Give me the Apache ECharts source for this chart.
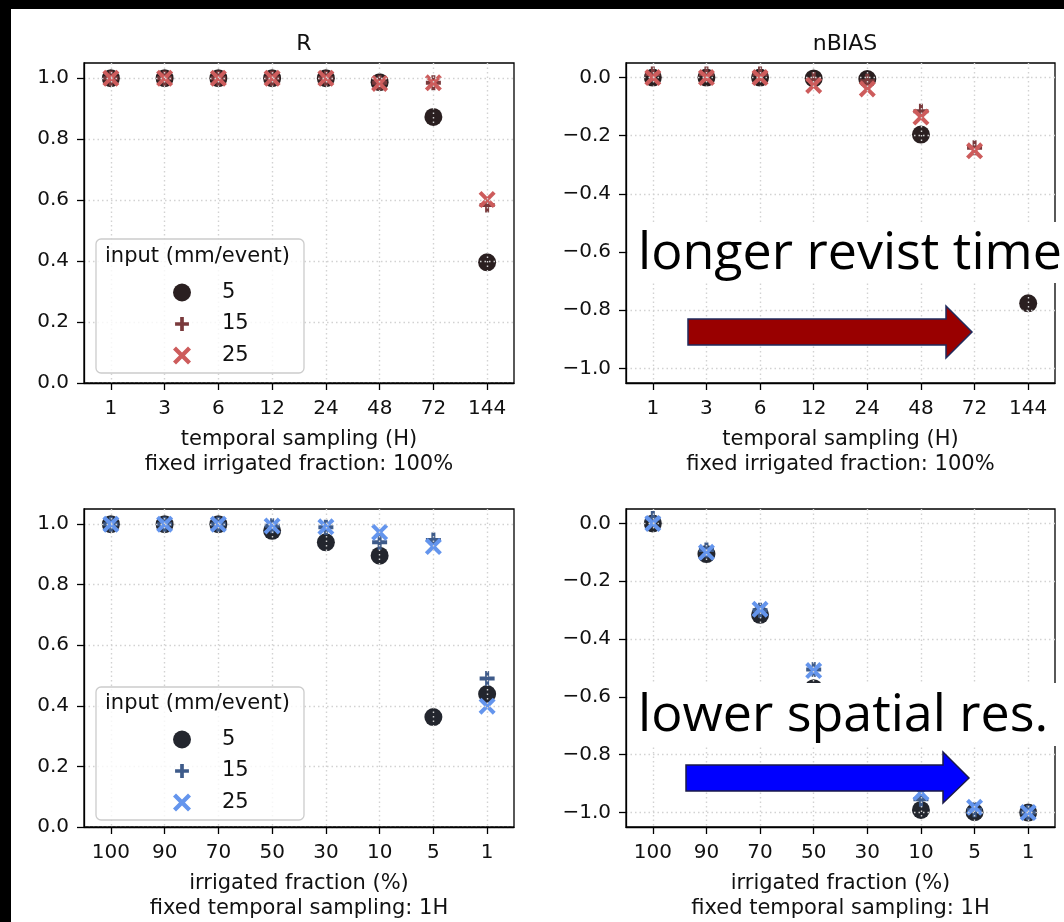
<!DOCTYPE html>
<html>
<head>
<meta charset="utf-8">
<script src="https://cdn.jsdelivr.net/npm/echarts@6/dist/echarts.min.js"></script>
<style>
html,body{margin:0;padding:0;background:#fff;}
#chart{width:1064px;height:922px;}
</style>
</head>
<body>
<div id="chart"></div>
<script>
// ---------------- DATA ----------------
const catsTemporal = ['1','3','6','12','24','48','72','144'];
const catsFraction = ['100','90','70','50','30','10','5','1'];
const ticksR = [0, 0.2, 0.4, 0.6, 0.8, 1.0];
const ticksBias = [-1.0, -0.8, -0.6, -0.4, -0.2, 0.0];
const inputs = ['5', '15', '25'];

// R vs temporal sampling (fixed irrigated fraction 100%)
const rTemporal5  = [1.0, 1.0, 1.0, 1.0, 1.0, 0.987, 0.873, 0.396];
const rTemporal15 = [1.0, 1.0, 1.0, 1.0, 1.0, 0.985, 0.985, 0.584];
const rTemporal25 = [1.0, 1.0, 1.0, 1.0, 1.0, 0.983, 0.985, 0.602];

// nBIAS vs temporal sampling
const biasTemporal5  = [0.0, 0.0, 0.0, -0.003, -0.005, -0.196, -0.55, -0.776];
const biasTemporal15 = [0.012, 0.012, 0.012, -0.007, -0.013, -0.116, -0.241, -0.55];
const biasTemporal25 = [0.0, 0.0, 0.0, -0.027, -0.039, -0.136, -0.252, -0.534];

// R vs irrigated fraction (fixed temporal sampling 1H)
const rFraction5  = [1.0, 1.0, 1.0, 0.978, 0.940, 0.896, 0.363, 0.439];
const rFraction15 = [1.0, 1.0, 1.0, 0.995, 0.990, 0.940, 0.948, 0.490];
const rFraction25 = [1.0, 1.0, 1.0, 0.994, 0.991, 0.973, 0.926, 0.399];

// nBIAS vs irrigated fraction
const biasFraction5  = [0.0, -0.106, -0.316, -0.57, -0.72, -0.991, -0.999, -1.0];
const biasFraction15 = [0.017, -0.092, -0.300, -0.505, -0.69, -0.954, -0.99, -1.0];
const biasFraction25 = [0.0, -0.100, -0.297, -0.509, -0.68, -0.931, -0.982, -1.0];

// ---------------- STYLE ----------------
const redPal  = ['#2a1f20', '#7a3a3c', '#cd5c5c'];
const bluePal = ['#23262e', '#3e5b8a', '#6495ed'];
const PLUS  = 'path://M-0.8,-3H0.8V-0.8H3V0.8H0.8V3H-0.8V0.8H-3V-0.8H-0.8Z';
const PLUS_LEG = 'path://M-3.9,-3.9M3.9,3.9M-0.8,-3H0.8V-0.8H3V0.8H0.8V3H-0.8V0.8H-3V-0.8H-0.8Z';
const XMARK = 'path://M-3,-2L-2,-3L0,-1L2,-3L3,-2L1,0L3,2L2,3L0,1L-2,3L-3,2L-1,0Z';
const symbols = ['circle', PLUS, XMARK];
const sizes = [18, 15, 17];
const FONT = 'DejaVu Sans';

const grids = [
  {left: 84,  top: 63,  width: 430, height: 320},
  {left: 626, top: 63,  width: 429, height: 320},
  {left: 84,  top: 509, width: 430, height: 322},
  {left: 626, top: 509, width: 429, height: 322}
];

function fmtY(v){
  const s = Math.abs(v).toFixed(1);
  return (v < -1e-9 ? '\u2212' : '') + s;
}

const gridLine = {show: true, lineStyle: {color: '#d2d2d2', type: [1.5, 3], width: 1.4}};

function xAxisFor(idx, cats, name){
  return {
    type: 'value', gridIndex: idx, min: -0.5, max: 7.5, z: 3,
    name: name, nameLocation: 'middle', nameGap: 44,
    nameTextStyle: {fontFamily: FONT, fontSize: 21, lineHeight: 25, color: '#111'},
    axisLine: {show: true, onZero: false, lineStyle: {color: '#000', width: 1.3}},
    axisTick: {show: true, length: 7, inside: false, customValues: [0,1,2,3,4,5,6,7], lineStyle: {color: '#000', width: 1.3}},
    axisLabel: {show: true, margin: 16, customValues: [0,1,2,3,4,5,6,7], fontFamily: FONT, fontSize: 20, color: '#111',
      formatter: v => cats[Math.round(v)]},
    splitLine: gridLine
  };
}
function yAxisFor(idx, min, max, ticks){
  return {
    type: 'value', gridIndex: idx, min: min, max: max, z: 3,
    axisLine: {show: true, onZero: false, lineStyle: {color: '#000', width: 1.3}},
    axisTick: {show: true, length: 7, inside: false, customValues: ticks, lineStyle: {color: '#000', width: 1.3}},
    axisLabel: {show: true, margin: 15, customValues: ticks, fontFamily: FONT, fontSize: 20, color: '#111', formatter: fmtY},
    splitLine: gridLine
  };
}

const panelData = [
  [rTemporal5, rTemporal15, rTemporal25],
  [biasTemporal5, biasTemporal15, biasTemporal25],
  [rFraction5, rFraction15, rFraction25],
  [biasFraction5, biasFraction15, biasFraction25]
];
const panelPal = [redPal, redPal, bluePal, bluePal];

const series = [];
panelData.forEach((arrs, p) => {
  arrs.forEach((vals, k) => {
    series.push({
      type: 'scatter', name: inputs[k], xAxisIndex: p, yAxisIndex: p,
      symbol: symbols[k], symbolSize: sizes[k], z: 2,
      itemStyle: {color: panelPal[p][k], opacity: 1},
      emphasis: {disabled: true},
      data: vals.map((v, i) => [i, v])
    });
  });
});

function legendFor(top, pal){
  return {
    orient: 'vertical', left: 168, top: top, z: 6,
    itemWidth: 18, itemHeight: 18, itemGap: 10.5,
    selectedMode: false,
    textStyle: {fontFamily: FONT, fontSize: 21, lineHeight: 18, color: '#111', padding: [0, 0, 0, 26]},
    data: inputs.map((n, k) => ({name: n, icon: [ 'circle', PLUS_LEG, XMARK ][k], itemStyle: {color: pal[k]}}))
  };
}

function arrow(pts, fill, stroke){
  return {type: 'polygon', z: 12, shape: {points: pts}, style: {fill: fill, stroke: stroke, lineWidth: 1.5}};
}

const option = {
  backgroundColor: '#ffffff',
  animation: false,
  title: [
    {text: 'R', left: 299, top: 28, textAlign: 'center', textStyle: {fontFamily: FONT, fontSize: 22, fontWeight: 'normal', color: '#111'}},
    {text: 'nBIAS', left: 840, top: 28, textAlign: 'center', textStyle: {fontFamily: FONT, fontSize: 22, fontWeight: 'normal', color: '#111'}}
  ],
  grid: grids.map(g => Object.assign({show: true, borderColor: '#000', borderWidth: 1.3, backgroundColor: '#fff'}, g)),
  xAxis: [
    xAxisFor(0, catsTemporal, 'temporal sampling (H)\nfixed irrigated fraction: 100%'),
    xAxisFor(1, catsTemporal, 'temporal sampling (H)\nfixed irrigated fraction: 100%'),
    xAxisFor(2, catsFraction, 'irrigated fraction (%)\nfixed temporal sampling: 1H'),
    xAxisFor(3, catsFraction, 'irrigated fraction (%)\nfixed temporal sampling: 1H')
  ],
  yAxis: [
    yAxisFor(0, 0, 1.05, ticksR),
    yAxisFor(1, -1.05, 0.05, ticksBias),
    yAxisFor(2, 0, 1.05, ticksR),
    yAxisFor(3, -1.05, 0.05, ticksBias)
  ],
  legend: [legendFor(277, redPal), legendFor(724, bluePal)],
  series: series,
  graphic: [
    // legend frames + titles
    {type: 'rect', z: 5, shape: {x: 96, y: 239, width: 208, height: 134, r: 5}, style: {fill: 'rgba(255,255,255,0.8)', stroke: '#cccccc', lineWidth: 1.3}},
    {type: 'text', z: 6, x: 105, y: 257, style: {text: 'input (mm/event)', font: '21px "DejaVu Sans"', fill: '#111', verticalAlign: 'middle'}},
    {type: 'rect', z: 5, shape: {x: 96, y: 687, width: 208, height: 133, r: 5}, style: {fill: 'rgba(255,255,255,0.8)', stroke: '#cccccc', lineWidth: 1.3}},
    {type: 'text', z: 6, x: 105, y: 704, style: {text: 'input (mm/event)', font: '21px "DejaVu Sans"', fill: '#111', verticalAlign: 'middle'}},
    // annotation boxes
    {type: 'rect', z: 10, shape: {x: 630, y: 222, width: 434, height: 61}, style: {fill: '#ffffff'}},
    {type: 'text', z: 11, x: 638, y: 254, style: {text: 'longer revist time', font: '52px "Open Sans"', fill: '#000', verticalAlign: 'middle'}},
    arrow([[688,319],[946,319],[946,306],[972,332],[946,358],[946,345],[688,345]], '#990000', '#1f2a5c'),
    {type: 'rect', z: 10, shape: {x: 630, y: 683, width: 434, height: 63}, style: {fill: '#ffffff'}},
    {type: 'text', z: 11, x: 638, y: 716, style: {text: 'lower spatial res.', font: '52px "Open Sans"', fill: '#000', verticalAlign: 'middle'}},
    arrow([[686,765],[943,765],[943,752],[969,778],[943,803],[943,791],[686,791]], '#0000ff', '#1a1a4a'),
    // black screenshot border
    {type: 'rect', z: 20, shape: {x: 0, y: 0, width: 1064, height: 9}, style: {fill: '#000'}},
    {type: 'rect', z: 20, shape: {x: 0, y: 0, width: 11, height: 922}, style: {fill: '#000'}}
  ]
};

const chart = echarts.init(document.getElementById('chart'), null, {renderer: 'canvas'});
chart.setOption(option);
</script>
</body>
</html>
